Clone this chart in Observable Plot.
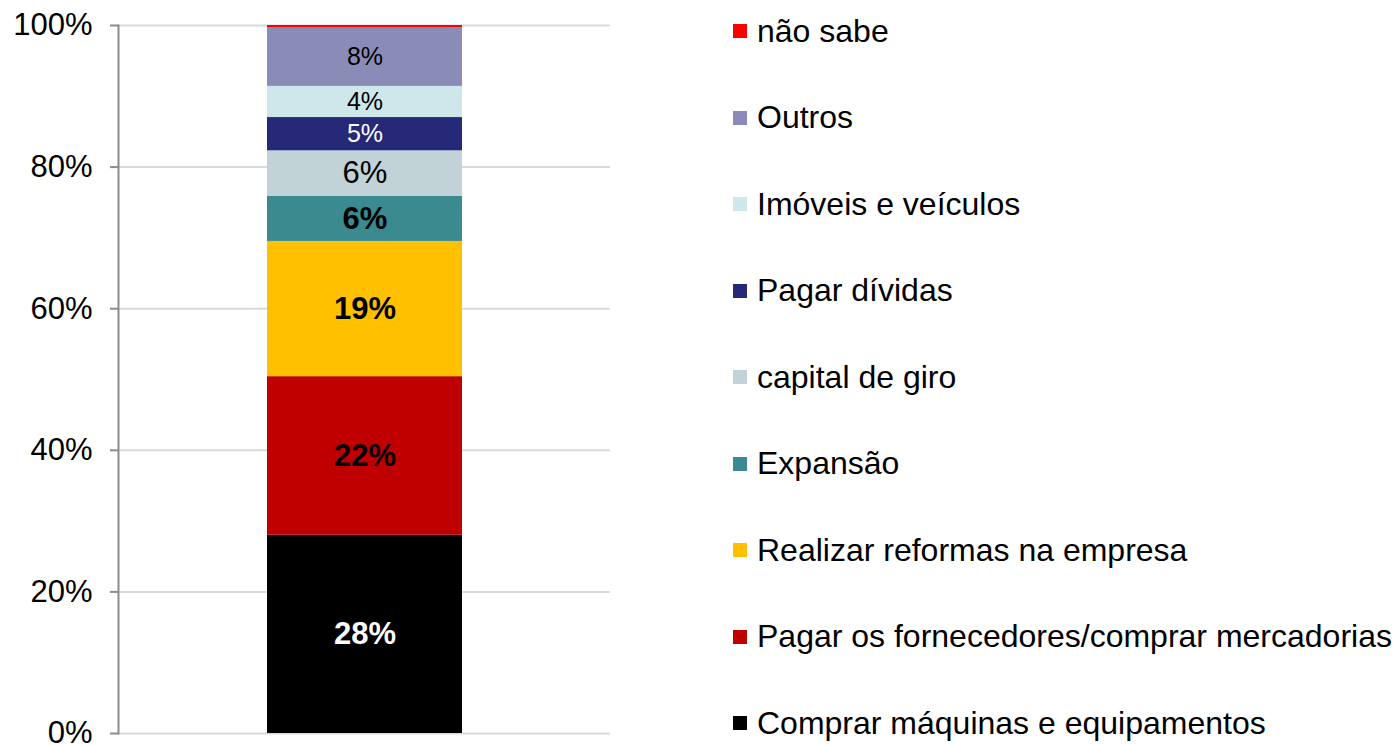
<!DOCTYPE html>
<html><head><meta charset="utf-8">
<script src="https://cdn.jsdelivr.net/npm/d3@7"></script>
<script src="https://cdn.jsdelivr.net/npm/@observablehq/plot@0.6"></script>
<style>
body{margin:0;background:#fff;font-family:"Liberation Sans",Arial,sans-serif;}
#wrap{position:relative;width:1394px;height:745px;overflow:hidden;background:#fff}
#chart{position:absolute;left:0;top:0}
.item{position:absolute;left:733px;height:40px;display:flex;align-items:center;white-space:nowrap;font-size:32px;color:#000;font-family:"Liberation Sans",Arial,sans-serif}
.sw{width:14px;height:14px;margin-right:10px;flex:none}
</style></head><body><div id="wrap"><div id="chart"></div><div id="legend"></div></div>
<script>
// Data (bottom to top of the stacked bar)
const categories = [
  "Comprar máquinas e equipamentos",
  "Pagar os fornecedores/comprar mercadorias",
  "Realizar reformas na empresa",
  "Expansão",
  "capital de giro",
  "Pagar dívidas",
  "Imóveis e veículos",
  "Outros",
  "não sabe"
];
const values = [28.0, 22.4, 19.1, 6.4, 6.4, 4.7, 4.4, 8.3, 0.3];
const colors = ["#000000", "#C00000", "#FFC000", "#3B8A8F", "#C1D3D6", "#262878", "#CDE7EA", "#8B8BB8", "#FF0000"];
const yTicks = [0, 20, 40, 60, 80, 100];
const group = "Total";

const data = categories.map((c, i) => ({group, category: c, value: values[i]}));

const unlabeled = new Set(["não sabe"]);
const boldSet = new Set(["Comprar máquinas e equipamentos", "Pagar os fornecedores/comprar mercadorias", "Realizar reformas na empresa", "Expansão"]);
const whiteSet = new Set(["Comprar máquinas e equipamentos", "Pagar dívidas"]);
const smallSet = new Set(["Pagar dívidas", "Imóveis e veículos", "Outros"]);
const fmt = d => Math.round(d.value) + "%";
const pick = test => d => (!unlabeled.has(d.category) && test(d)) ? fmt(d) : null;

const textBase = {x: "group", y: "value"};

const chart = Plot.plot({
  width: 640,
  height: 745,
  marginLeft: 118,
  marginRight: 30,
  marginTop: 25,
  marginBottom: 12,
  style: {fontFamily: "'Liberation Sans', Arial, sans-serif", background: "white", overflow: "hidden"},
  x: {domain: [group], padding: 0.432, axis: null},
  y: {domain: [0, 100], axis: null},
  color: {domain: categories, range: colors},
  marks: [
    Plot.gridY(yTicks, {stroke: "#d9d9d9", strokeOpacity: 1, strokeWidth: 2}),
    Plot.barY(data, Plot.stackY({x: "group", y: "value", fill: "category", order: null})),
    Plot.frame({anchor: "left", stroke: "#8c8c8c", strokeWidth: 2}),
    Plot.axisY(yTicks, {label: null, tickFormat: d => d + "%", fontSize: 31, tickSize: 8, tickPadding: 18, stroke: "#8c8c8c", fill: "black", strokeWidth: 2}),
    // bold white
    Plot.text(data, Plot.stackY({...textBase, text: pick(d => boldSet.has(d.category) && whiteSet.has(d.category)), fill: "white", fontWeight: "bold", fontSize: 31})),
    // bold black
    Plot.text(data, Plot.stackY({...textBase, text: pick(d => boldSet.has(d.category) && !whiteSet.has(d.category)), fill: "black", fontWeight: "bold", fontSize: 31})),
    // normal black big
    Plot.text(data, Plot.stackY({...textBase, text: pick(d => !boldSet.has(d.category) && !smallSet.has(d.category)), fill: "black", fontSize: 31})),
    // small white
    Plot.text(data, Plot.stackY({...textBase, text: pick(d => smallSet.has(d.category) && whiteSet.has(d.category)), fill: "white", fontSize: 25})),
    // small black
    Plot.text(data, Plot.stackY({...textBase, text: pick(d => smallSet.has(d.category) && !whiteSet.has(d.category)), fill: "black", fontSize: 25}))
  ]
});
document.getElementById("chart").appendChild(chart);

// Legend (top to bottom = reverse stack order)
const legend = document.getElementById("legend");
const order = categories.map((c, i) => i).reverse();
order.forEach((idx, row) => {
  const cy = 31 + row * 86.5;
  const item = document.createElement("div");
  item.className = "item";
  item.style.top = (cy - 20) + "px";
  const sw = document.createElement("span");
  sw.className = "sw";
  sw.style.background = colors[idx];
  const label = document.createElement("span");
  label.textContent = categories[idx];
  item.appendChild(sw);
  item.appendChild(label);
  legend.appendChild(item);
});
</script>
</body></html>
